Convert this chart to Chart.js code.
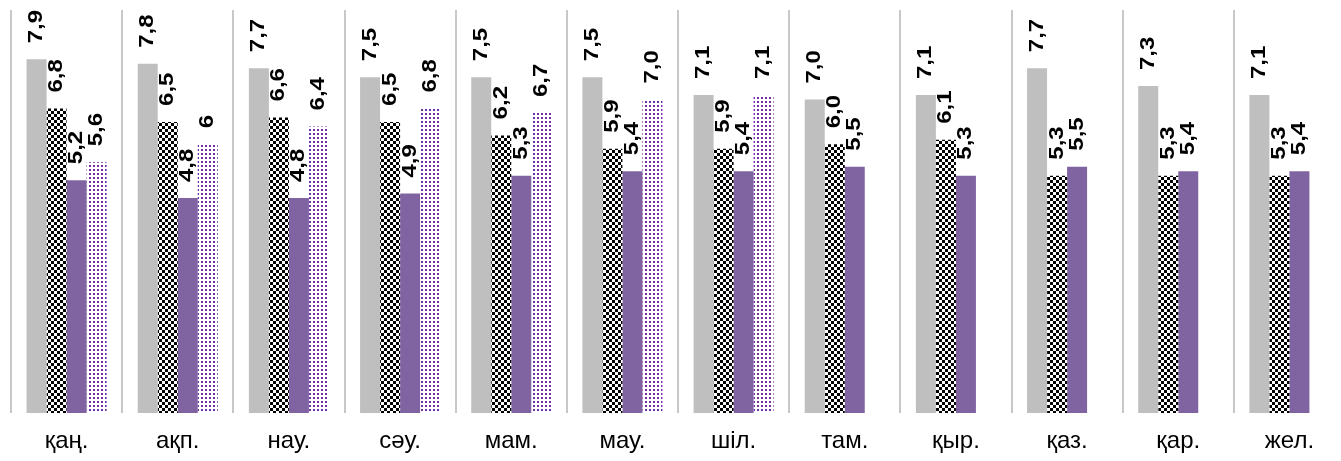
<!DOCTYPE html>
<html>
<head>
<meta charset="utf-8">
<script src="https://cdn.jsdelivr.net/npm/chart.js@4/dist/chart.umd.min.js"></script>
<style>
  html, body { margin: 0; padding: 0; overflow: hidden; background: #fff; }
  #wrap { width: 1345px; height: 461px; position: relative; }
</style>
</head>
<body>
<div id="wrap"><canvas id="chart"></canvas></div>
<script>
const months = ['қаң.', 'ақп.', 'нау.', 'сәу.', 'мам.', 'мау.', 'шіл.', 'там.', 'қыр.', 'қаз.', 'қар.', 'жел.'];

const seriesGray   = [7.9, 7.8, 7.7, 7.5, 7.5, 7.5, 7.1, 7.0, 7.1, 7.7, 7.3, 7.1];
const seriesCheck  = [6.8, 6.5, 6.6, 6.5, 6.2, 5.9, 5.9, 6.0, 6.1, 5.3, 5.3, 5.3];
const seriesPurple = [5.2, 4.8, 4.8, 4.9, 5.3, 5.4, 5.4, 5.5, 5.3, 5.5, 5.4, 5.4];
const seriesDotted = [5.6, 6, 6.4, 6.8, 6.7, 7.0, 7.1, null, null, null, null, null];

// labels shown without a decimal (series index -> point indexes)
const wholeLabels = {3: [1]};

function makePattern(size, bg, fg, cells) {
    const c = document.createElement('canvas');
    c.width = size; c.height = size;
    const g = c.getContext('2d');
    g.fillStyle = bg;
    g.fillRect(0, 0, size, size);
    g.fillStyle = fg;
    cells.forEach(r => g.fillRect(r[0], r[1], r[2], r[3]));
    return g.createPattern(c, 'repeat');
}

const ctx = document.getElementById('chart').getContext('2d');

const checkFill = makePattern(6, '#ffffff', '#000000', [[0, 0, 3, 3], [3, 3, 3, 3]]);
const dotFill = makePattern(4, '#ffffff', '#7030A0', [[1, 1, 2, 2]]);

const labelPlugin = {
    id: 'barLabels',
    afterDatasetsDraw(chart) {
        const c = chart.ctx;
        c.save();
        c.font = 'bold 20px "Liberation Sans", Arial, sans-serif';
        c.fillStyle = '#000';
        c.textAlign = 'left';
        c.textBaseline = 'middle';
        chart.data.datasets.forEach((ds, i) => {
            const meta = chart.getDatasetMeta(i);
            meta.data.forEach((bar, j) => {
                const v = ds.data[j];
                if (v === null || v === undefined) return;
                let txt = v.toFixed(1).replace('.', ',');
                if (wholeLabels[i] && wholeLabels[i].includes(j)) txt = String(v);
                c.save();
                c.translate(bar.x, bar.y - 16);
                c.rotate(-Math.PI / 2);
                c.scale(1.2, 1);
                c.fillText(txt, 0, 0);
                c.restore();
            });
        });
        c.restore();
    }
};

new Chart(ctx, {
    type: 'bar',
    data: {
        labels: months,
        datasets: [
            {data: seriesGray, backgroundColor: '#BFBFBF'},
            {data: seriesCheck, backgroundColor: checkFill},
            {data: seriesPurple, backgroundColor: '#8064A2'},
            {data: seriesDotted, backgroundColor: dotFill}
        ]
    },
    options: {
        responsive: true,
        maintainAspectRatio: false,
        animation: false,
        datasets: {
            bar: {barPercentage: 1, categoryPercentage: 0.72, borderWidth: 0}
        },
        layout: {padding: {left: 11, right: 0, top: 10, bottom: 0}},
        plugins: {
            legend: {display: false},
            tooltip: {enabled: false}
        },
        scales: {
            x: {
                afterFit(scale) { scale.height = 48; },
                grid: {
                    offset: true,
                    color: '#C8C8C8',
                    lineWidth: 2,
                    drawTicks: false
                },
                border: {display: false},
                ticks: {
                    color: '#000',
                    padding: 14,
                    font: {family: '"Liberation Sans", Arial, sans-serif', size: 24}
                }
            },
            y: {
                display: false,
                min: 0,
                max: 9
            }
        }
    },
    plugins: [labelPlugin]
});
</script>
</body>
</html>
